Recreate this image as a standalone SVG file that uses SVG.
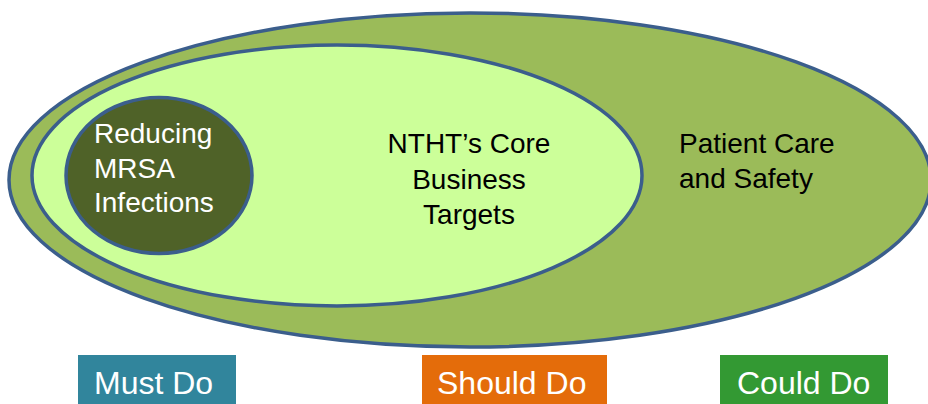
<svg xmlns="http://www.w3.org/2000/svg" width="928" height="404" viewBox="0 0 928 404">
<style>
.ring{stroke:#3B5E8C;stroke-width:3.5}
.t{font-family:"Liberation Sans",Arial,sans-serif;font-size:28px}
.lbl{font-family:"Liberation Sans",Arial,sans-serif;font-size:32px;fill:#fff}
</style>
<rect width="928" height="404" fill="#fff"/>
<g id="could">
<ellipse class="ring" cx="470" cy="180" rx="461" ry="167" fill="#9BBB59"/>
<text class="t" x="679" y="153" fill="#000">Patient Care</text>
<text class="t" x="679" y="188" fill="#000">and Safety</text>
</g>
<g id="should">
<ellipse class="ring" cx="337" cy="175.5" rx="305" ry="130.5" fill="#CCFF99"/>
<text class="t" x="469" y="153" text-anchor="middle" fill="#000">NTHT’s Core</text>
<text class="t" x="469" y="189" text-anchor="middle" fill="#000">Business</text>
<text class="t" x="469" y="224" text-anchor="middle" fill="#000">Targets</text>
</g>
<g id="must">
<ellipse class="ring" cx="159" cy="175.5" rx="93" ry="78" fill="#4F6228"/>
<text class="t" x="94" y="143" fill="#fff">Reducing</text>
<text class="t" x="94" y="178" fill="#fff">MRSA</text>
<text class="t" x="94" y="212" fill="#fff">Infections</text>
</g>
<g id="connectors"></g>
<g id="mustdo">
<rect x="78" y="355" width="158" height="49" fill="#31859C"/>
<text class="lbl" x="94" y="394">Must Do</text>
</g>
<g id="shoulddo">
<rect x="422" y="355" width="185" height="49" fill="#E46C0A"/>
<text class="lbl" x="437" y="394">Should Do</text>
</g>
<g id="coulddo">
<rect x="720" y="355" width="168" height="49" fill="#339933"/>
<text class="lbl" x="737" y="394">Could Do</text>
</g>
</svg>
